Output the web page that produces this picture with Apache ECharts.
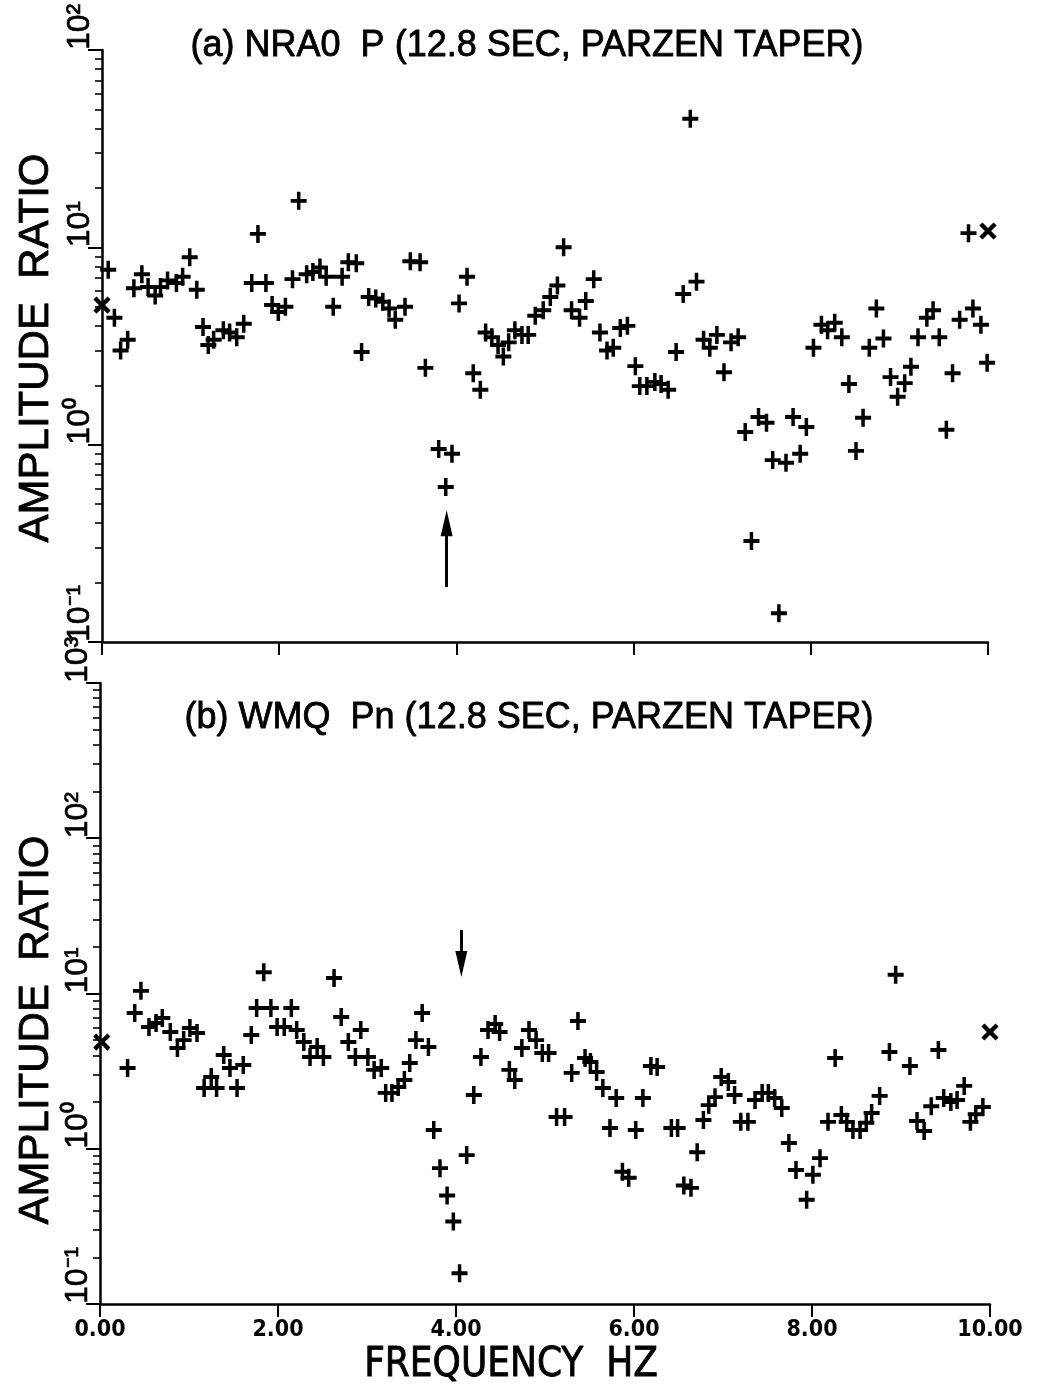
<!DOCTYPE html>
<html><head><meta charset="utf-8">
<script src="https://cdn.jsdelivr.net/npm/echarts@6/dist/echarts.min.js"></script>
<style>html,body{margin:0;padding:0;background:#fff}#c{width:1039px;height:1387px}</style>
</head><body><div id="c"></div>
<script>
// ---- panel (a) NRA0 P ----
const freqA = [0.00,0.07,0.14,0.21,0.29,0.36,0.45,0.52,0.60,0.66,
0.74,0.84,0.91,0.99,1.07,1.14,1.20,1.26,1.37,1.44,
1.52,1.60,1.69,1.76,1.85,1.92,1.99,2.07,2.15,2.22,
2.31,2.38,2.46,2.53,2.61,2.71,2.78,2.87,2.93,3.01,
3.09,3.17,3.24,3.31,3.42,3.48,3.59,3.65,3.80,3.88,
3.95,4.03,4.12,4.19,4.27,4.33,4.40,4.47,4.53,4.59,
4.66,4.74,4.81,4.89,4.98,5.06,5.14,5.21,5.30,5.39,
5.46,5.55,5.62,5.70,5.77,5.85,5.93,6.02,6.07,6.15,
6.24,6.31,6.39,6.48,6.56,6.64,6.71,6.79,6.86,6.94,
7.02,7.10,7.18,7.26,7.33,7.41,7.50,7.57,7.64,7.72,
7.80,7.88,7.95,8.03,8.12,8.19,8.27,8.35,8.43,8.51,
8.59,8.66,8.74,8.82,8.90,8.98,9.06,9.13,9.21,9.31,
9.38,9.45,9.53,9.60,9.68,9.78,9.83,9.92,9.99,10.00];
const ampA = [5.1,7.7,4.4,3.0,3.4,6.2,7.3,6.3,5.7,6.3,
6.8,6.6,7.1,8.9,6.1,3.95,3.2,3.4,3.8,3.7,
3.5,4.1,6.6,11.7,6.6,5.1,4.7,5.0,6.9,17.2,
7.3,7.5,7.9,7.1,5.0,7.1,8.4,8.3,2.95,5.6,
5.5,5.3,4.9,4.3,5.0,8.5,8.4,2.45,0.95,0.61,
0.90,5.2,7.1,2.3,1.9,3.7,3.5,3.2,2.8,3.3,
3.8,3.6,3.6,4.5,4.8,5.6,6.4,10.0,4.8,4.4,
5.35,6.9,3.7,3.0,3.1,3.9,4.0,2.5,1.98,1.98,
2.08,2.03,1.9,2.95,5.8,44.8,6.7,3.4,3.1,3.6,
2.33,3.3,3.5,1.16,0.325,1.38,1.29,0.835,0.14,0.81,
1.38,0.90,1.23,3.1,4.05,3.8,4.15,3.5,2.03,0.93,
1.37,3.1,4.9,3.45,2.2,1.75,2.05,2.48,3.5,4.4,
4.8,3.5,1.19,2.3,4.3,11.8,4.9,4.05,2.6,12.1];

// ---- panel (b) WMQ Pn ----
const freqB = [0.02,0.31,0.39,0.46,0.55,0.63,0.70,0.79,0.87,0.94,
1.01,1.09,1.17,1.25,1.31,1.39,1.46,1.54,1.61,1.70,
1.76,1.84,1.92,1.99,2.07,2.15,2.21,2.29,2.36,2.44,
2.51,2.63,2.71,2.79,2.87,2.93,3.01,3.08,3.16,3.21,
3.28,3.35,3.42,3.48,3.55,3.62,3.69,3.75,3.82,3.90,
3.97,4.04,4.12,4.20,4.28,4.36,4.44,4.49,4.60,4.66,
4.74,4.82,4.90,4.97,5.04,5.13,5.22,5.30,5.37,5.45,
5.51,5.58,5.65,5.73,5.80,5.87,5.94,6.02,6.10,6.19,
6.26,6.42,6.49,6.56,6.64,6.71,6.78,6.84,6.91,6.98,
7.06,7.13,7.20,7.28,7.36,7.44,7.51,7.58,7.66,7.74,
7.82,7.94,8.01,8.09,8.18,8.26,8.33,8.39,8.46,8.54,
8.61,8.67,8.76,8.87,8.94,9.10,9.18,9.26,9.34,9.42,
9.48,9.56,9.63,9.71,9.78,9.84,9.92,10.00];
const ampB = [4.87,3.31,7.49,10.4,6.08,6.46,6.95,5.65,4.46,5.01,
6.0,5.57,2.46,2.90,2.46,4.02,3.31,2.46,3.46,5.4,
8.07,13.7,8.07,6.08,6.08,8.07,5.82,4.87,3.90,4.52,
3.90,12.6,7.06,4.87,3.90,5.82,3.90,3.22,3.31,2.29,
2.29,2.50,2.77,3.57,5.01,7.49,4.52,1.32,0.75,0.50,
0.34,0.158,0.91,2.22,3.90,5.82,6.36,5.65,3.22,2.77,
4.46,5.82,5.01,4.14,4.14,1.60,1.60,3.08,6.65,3.84,
3.62,3.12,2.46,1.36,2.12,0.71,0.65,1.32,2.12,3.41,
3.36,1.36,1.36,0.58,0.56,0.95,1.53,1.91,2.15,2.90,
2.69,2.22,1.49,1.49,2.06,2.29,2.29,2.12,1.83,1.09,
0.73,0.47,0.68,0.87,1.49,3.84,1.65,1.49,1.32,1.32,
1.47,1.70,2.19,4.2,13.2,3.41,1.51,1.30,1.88,4.33,
2.12,2.0,2.06,2.54,1.49,1.67,1.86,5.65];

// ---- axes / ticks / labels ----
const xTicks = [0, 2, 4, 6, 8, 10];
const yExpA = [-1, 0, 1, 2];
const yExpB = [-1, 0, 1, 2, 3];
const titleA = '(a) NRA0  P (12.8 SEC, PARZEN TAPER)';
const titleB = '(b) WMQ  Pn (12.8 SEC, PARZEN TAPER)';
const yName = 'AMPLITUDE  RATIO';
const xName = 'FREQUENCY  HZ';
// arrows (frequency, amplitude from -> to)
const arrowA = {f: 3.89, from: 0.19, to: 0.40};
const arrowB = {f: 4.06, from: 25.6, to: 15.5};

const plusPath = 'path://M6.25,0H9.75V6.25H16V9.75H9.75V16H6.25V9.75H0V6.25H6.25Z';
const FONT = "'Liberation Sans', Arial, sans-serif";
const NARROW = "'Liberation Sans Narrow', 'DejaVu Sans Condensed', sans-serif";
const SUP = {'-': '\u207B', '0': '\u2070', '1': '\u00B9', '2': '\u00B2', '3': '\u00B3'};

function majors(exps){ return exps.map(e => Math.pow(10, e)); }
function minors(exps){
  const out = [];
  for (let i = 0; i < exps.length - 1; i++)
    for (let m = 2; m <= 9; m++) out.push(+(m * Math.pow(10, exps[i])).toPrecision(3));
  return out;
}
function powLabel(v){
  const e = String(Math.round(Math.log10(v)));
  return '10' + e.split('').map(c => SUP[c]).join('');
}
function buildData(fs, as){
  const n = Math.min(fs.length, as.length);
  const d = [];
  for (let i = 0; i < n; i++) {
    const end = (i === 0 || i === n - 1);
    d.push({value: [fs[i], as[i]], symbolRotate: end ? 45 : 0, symbolSize: end ? [20, 20] : [16, 18]});
  }
  return d;
}
function yAxesFor(grid, exps){
  const lo = Math.pow(10, exps[0]), hi = Math.pow(10, exps[exps.length-1]);
  return [{
    type: 'log', logBase: 10, gridIndex: grid, min: lo, max: hi, position: 'left',
    axisLine: {show: true, lineStyle: {color: '#000', width: 2.5}},
    axisTick: {show: true, inside: false, length: 14, customValues: majors(exps), lineStyle: {color: '#000', width: 2}},
    minorTick: {show: false},
    splitLine: {show: false},
    axisLabel: {
      show: true, customValues: majors(exps), rotate: 90, align: 'left', verticalAlign: 'bottom', margin: 6,
      formatter: powLabel, fontSize: 32, fontFamily: FONT, color: '#000',
      textBorderColor: '#000', textBorderWidth: 0.6
    }
  }, {
    type: 'log', logBase: 10, gridIndex: grid, min: lo, max: hi, position: 'left',
    axisLine: {show: false},
    axisTick: {show: true, inside: false, length: 7, customValues: minors(exps), lineStyle: {color: '#000', width: 1.6}},
    splitLine: {show: false},
    axisLabel: {show: false}
  }];
}
function xAxisFor(grid, labels){
  return {
    type: 'value', gridIndex: grid, min: xTicks[0], max: xTicks[xTicks.length-1], interval: 2,
    axisLine: {show: true, onZero: false, lineStyle: {color: '#000', width: 2.5}},
    axisTick: {show: true, inside: false, length: 13, lineStyle: {color: '#000', width: 2}},
    splitLine: {show: false},
    axisLabel: {show: labels, margin: 15, color: '#000', fontSize: 23, fontWeight: 'bold', fontFamily: NARROW,
      formatter: v => v.toFixed(2)}
  };
}
function arrowLine(a){
  return {
    silent: true, animation: false,
    label: {show: false},
    lineStyle: {color: '#000', width: 3, type: 'solid'},
    data: [[{coord: [a.f, a.from], symbol: 'none'}, {coord: [a.f, a.to], symbol: 'triangle', symbolSize: [12, 26]}]]
  };
}
function seriesFor(idx, fs, as, arrow){
  return {
    type: 'scatter', xAxisIndex: idx, yAxisIndex: idx * 2,
    symbol: plusPath, itemStyle: {color: '#000', opacity: 1},
    data: buildData(fs, as),
    markLine: arrowLine(arrow),
    animation: false
  };
}
const txt = (t, x, y, size, rot, family) => ({
  type: 'text', x: x, y: y, rotation: rot || 0,
  style: {text: t, fill: '#000', stroke: '#000', lineWidth: 0.8, fontSize: size, fontFamily: family || FONT,
    align: 'center', verticalAlign: 'middle'}
});

const chart = echarts.init(document.getElementById('c'), null, {renderer: 'canvas'});
chart.setOption({
  backgroundColor: '#fff',
  animation: false,
  grid: [
    {left: 102, right: 51, top: 50, height: 592},
    {left: 100, right: 49, top: 683, height: 621}
  ],
  xAxis: [xAxisFor(0, false), xAxisFor(1, true)],
  yAxis: yAxesFor(0, yExpA).concat(yAxesFor(1, yExpB)),
  series: [seriesFor(0, freqA, ampA, arrowA), seriesFor(1, freqB, ampB, arrowB)],
  graphic: [
    txt(titleA, 527, 46, 36),
    txt(titleB, 529, 718, 36),
    txt(yName, 36, 348, 42, Math.PI / 2),
    txt(yName, 36, 1030, 42, Math.PI / 2),
    txt(xName, 511, 1366, 40, 0, NARROW)
  ]
});
</script></body></html>
